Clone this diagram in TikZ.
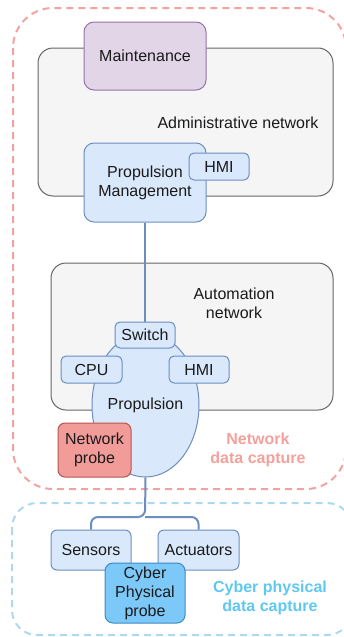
\documentclass[tikz,border=0pt]{standalone}
\usepackage{fontspec}
\setmainfont{Liberation Sans}
\usetikzlibrary{shapes.geometric}
\definecolor{txt}{HTML}{1A1A1A}
\definecolor{blfill}{HTML}{DAE8FC}
\definecolor{bldraw}{HTML}{6C8EBF}
\definecolor{grfill}{HTML}{F5F5F5}
\definecolor{grdraw}{HTML}{666666}
\definecolor{pufill}{HTML}{E1D5E7}
\definecolor{pudraw}{HTML}{9673A6}
\definecolor{rdfill}{HTML}{F19C99}
\definecolor{rddraw}{HTML}{B85450}
\definecolor{rdtxt}{HTML}{F4A09B}
\definecolor{rddash}{HTML}{F2A3A0}
\definecolor{cyfill}{HTML}{7CC8F8}
\definecolor{cydraw}{HTML}{3D8CC0}
\definecolor{cytxt}{HTML}{5EC8F0}
\definecolor{cydash}{HTML}{AED9EC}
\begin{document}
\begin{tikzpicture}[x=1pt,y=-1pt,
  every node/.style={font=\fontsize{16}{19}\selectfont, text=txt, align=center, inner sep=0pt},
  netbox/.style={draw=grdraw, fill=grfill, line width=1pt, rounded corners=15pt, rectangle},
  bluebox/.style={draw=bldraw, fill=blfill, line width=1pt, rounded corners=#1, rectangle},
  bluebox/.default=6pt,
  wire/.style={draw=bldraw, line width=2pt},
  capt/.style={font=\fontsize{16}{19}\selectfont\bfseries}
]
\useasboundingbox (0,0) rectangle (344,637);
% capture regions
\draw[rddash, line width=2pt, dash pattern=on 7pt off 5pt, rounded corners=40pt] (13,8) rectangle (346,489);
\draw[cydash, line width=2pt, dash pattern=on 7pt off 5pt, rounded corners=25pt] (12,503) rectangle (352,635);
% administrative network
\node[netbox, minimum width=295pt, minimum height=148pt] (admin) at (185.5,122) {};
\node (admintxt) at (238,123) {Administrative network};
\node[draw=pudraw, fill=pufill, line width=1pt, rounded corners=10pt, minimum width=122pt, minimum height=68pt] (maint) at (145,56) {Maintenance};
\node[bluebox=10pt, minimum width=122pt, minimum height=79pt] (pm) at (145,182.5) {Propulsion\\Management};
\node[bluebox=5pt, minimum width=60pt, minimum height=27pt] (hmi1) at (219,166.5) {HMI};
% automation network
\node[netbox, minimum width=282pt, minimum height=147pt] (auto) at (192,336.5) {};
\node (autotxt) at (234,303) {Automation\\network};
\node[ellipse, draw=bldraw, fill=blfill, line width=1pt, minimum width=107pt, minimum height=144pt] (prop) at (145.5,405) {Propulsion};
\node[bluebox=5pt, minimum width=60pt, minimum height=26pt] (switch) at (145,335) {Switch};
\draw[wire] (pm.south) -- (switch.north);
\node[bluebox=5pt, minimum width=61pt, minimum height=27pt] (cpu) at (91.5,369.5) {CPU};
\node[bluebox=5pt, minimum width=60pt, minimum height=27pt] (hmi2) at (199,369.5) {HMI};
\node[draw=rddraw, fill=rdfill, line width=1pt, rounded corners=7pt, minimum width=73pt, minimum height=54pt] (nprobe) at (94.5,450) {Network\\probe};
\node[capt, text=rdtxt] (ncap) at (258,450) {Network\\data capture};
% field devices
\coordinate (branch) at (145,517);
\node[bluebox=6pt, minimum width=80pt, minimum height=40pt] (sens) at (91,550) {Sensors};
\node[bluebox=6pt, minimum width=81pt, minimum height=40pt] (act) at (198.5,550) {Actuators};
\draw[wire, rounded corners=7pt] (prop.south) -- (branch) -| (sens.north);
\draw[wire, rounded corners=7pt] (branch) -| (act.north);
\node[draw=cydraw, fill=cyfill, line width=1pt, rounded corners=8pt, minimum width=80pt, minimum height=60pt] (cprobe) at (145,593) {Cyber\\Physical\\probe};
\node[capt, text=cytxt] (ccap) at (270,598) {Cyber physical\\data capture};
\end{tikzpicture}
\end{document}
